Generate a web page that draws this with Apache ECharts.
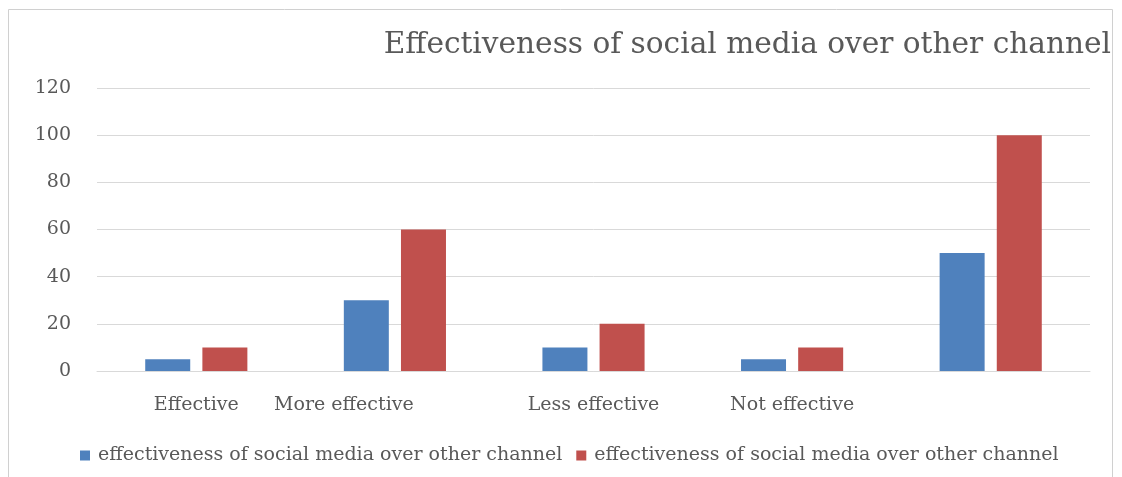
<!DOCTYPE html>
<html>
<head>
<meta charset="utf-8">
<script src="https://cdn.jsdelivr.net/npm/echarts@6/dist/echarts.min.js"></script>
<style>
  html, body { margin: 0; padding: 0; background: #fff; }
  #chart { width: 1122px; height: 477px; }
</style>
</head>
<body>
<div id="chart"></div>
<script>
// Survey categories and the two response series
const categories = ['Effective', 'More effective', 'Less effective', 'Not effective', ''];
const firstSeries = [5, 30, 10, 5, 50];
const secondSeries = [10, 60, 20, 10, 100];
const seriesLabels = [
  'effectiveness of social media over other channel',
  'effectiveness of social media over other channel'
];
const titleText = 'Effectiveness of social media over other channel';

// Value axis range
const yMin = 0, yMax = 120, yStep = 20;

// Horizontal nudge (px, to the left) for individual category labels
const labelNudge = [0, 51, 0, 0, 0];

const FONT = 'DejaVu Serif';
const TEXT = '#595959';
const GRID = '#D9D9D9';

const rich = {};
labelNudge.forEach((n, i) => {
  rich['c' + i] = {
    fontFamily: FONT, fontSize: 19, color: TEXT,
    padding: [0, 2 * n, 0, 0]
  };
});

const chart = echarts.init(document.getElementById('chart'), null, { renderer: 'canvas' });

chart.setOption({
  animation: false,
  backgroundColor: '#ffffff',
  title: {
    text: titleText,
    right: 11,
    top: 30,
    padding: 0,
    textStyle: { fontFamily: FONT, fontSize: 29.6, fontWeight: 'normal', color: TEXT }
  },
  graphic: [{
    type: 'rect',
    shape: { x: 8.5, y: 9.5, width: 1104, height: 500 },
    style: { fill: 'none', stroke: '#D0D0D0', lineWidth: 1 },
    silent: true
  }],
  legend: {
    left: 80,
    top: 446,
    padding: 0,
    itemWidth: 10,
    itemHeight: 10,
    itemGap: 14,
    icon: 'rect',
    data: ['s0', 's1'],
    formatter: name => seriesLabels[Number(name.slice(1))],
    textStyle: { fontFamily: FONT, fontSize: 19, color: TEXT, padding: [0, 0, 0, 3] }
  },
  grid: { left: 97, right: 32, top: 88, bottom: 106, containLabel: false },
  xAxis: {
    type: 'category',
    data: categories,
    axisLine: { show: true, lineStyle: { color: GRID, width: 1 } },
    axisTick: { show: false },
    axisLabel: {
      interval: 0,
      margin: 25,
      fontFamily: FONT, fontSize: 19, color: TEXT,
      formatter: (v, i) => v ? '{c' + i + '|' + v + '}' : '',
      rich: rich
    }
  },
  yAxis: {
    type: 'value',
    min: yMin, max: yMax, interval: yStep,
    axisLine: { show: false },
    axisTick: { show: false },
    splitLine: { lineStyle: { color: GRID, width: 1 } },
    axisLabel: { margin: 26, fontFamily: FONT, fontSize: 19, color: TEXT }
  },
  series: [
    {
      name: 's0', type: 'bar', data: firstSeries,
      barWidth: 45, barGap: '27%',
      itemStyle: { color: '#4F81BD' }
    },
    {
      name: 's1', type: 'bar', data: secondSeries,
      barWidth: 45, barGap: '27%',
      itemStyle: { color: '#C0504D' }
    }
  ]
});
</script>
</body>
</html>
